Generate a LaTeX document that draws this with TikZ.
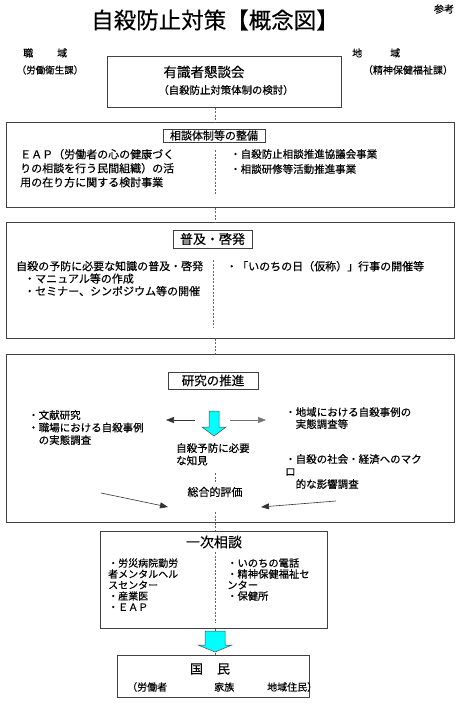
\documentclass[tikz,border=0pt]{standalone}
\usepackage{fontspec}
\setmainfont{Noto Sans CJK JP}[FakeBold=0.35]
\usetikzlibrary{arrows.meta}
\definecolor{aqua}{RGB}{0,255,255}
\newcommand{\fs}[2]{\fontsize{#1}{#2}\selectfont}
\begin{document}
\begin{tikzpicture}[x=1pt,y=-1pt,
  outer/.style={draw=black!75, line width=0.8pt, inner sep=0, anchor=north west},
  titlebox/.style={draw=black!75, line width=0.8pt, inner sep=0},
  txt/.style={inner sep=0, anchor=north west, align=left},
  ltxt/.style={inner sep=0, anchor=west},
  dashline/.style={draw=black!60, line width=0.7pt, dash pattern=on 2pt off 1.5pt},
  bigarrow/.style={fill=aqua, draw=black!70, line width=0.5pt},
  thinarrow/.style={draw=black!80, line width=0.6pt, -{Triangle[length=8pt,width=6pt]}}]
\useasboundingbox (0,0) rectangle (456,707);

% header
\node[font=\fs{22.5}{27}, inner sep=0] (title) at (215,20) {自殺防止対策【概念図】};
\node[font=\fs{10}{12}, inner sep=0] (sanko) at (444,9) {参考};
\node[ltxt, font=\fs{10}{12}] (shoku) at (23,53) {職\hspace{24pt}域};
\node[font=\fs{9.5}{12}, inner sep=0] (rodo) at (50,70) {（労働衛生課）};
\node[ltxt, font=\fs{10}{12}] (chiiki) at (352,53) {地\hspace{28pt}域};
\node[font=\fs{10}{12}, inner sep=0] (seishin) at (408,70) {（精神保健福祉課）};

% box 1
\node[outer, minimum width=234, minimum height=51] (b1) at (107,56) {};
\node[font=\fs{13.5}{16}, inner sep=0] (yushiki) at (204,72) {有識者懇談会};
\node[font=\fs{10.4}{12}, inner sep=0] (kento) at (226,90) {（自殺防止対策体制の検討）};

% box 2
\node[outer, minimum width=448, minimum height=85] (b2) at (6,122) {};
\node[titlebox, minimum width=102, minimum height=13, font=\fs{11}{13}] (t2) at (214,135.5) {相談体制等の整備};
\node[txt, font=\fs{11}{14}] (b2l) at (20,148.8) {ＥＡＰ（労働者の心の健康づく\\りの相談を行う民間組織）の活\\用の在り方に関する検討事業};
\node[txt, font=\fs{10.5}{15}] (b2r) at (230,149) {・自殺防止相談推進協議会事業\\・相談研修等活動推進事業};

% box 3
\node[outer, minimum width=448, minimum height=116] (b3) at (6,222) {};
\node[titlebox, minimum width=79, minimum height=18, font=\fs{13}{15}] (t3) at (212.5,239) {普及・啓発};
\node[txt, font=\fs{11}{12.5}] (b3l) at (16,260.8) {自殺の予防に必要な知識の普及・啓発\\\hspace{8pt}・マニュアル等の作成\\\hspace{8pt}・セミナー、シンポジウム等の開催};
\node[txt, font=\fs{11}{12.5}] (b3r) at (226,260.8) {・「いのちの日（仮称）」行事の開催等};

% box 4
\node[outer, minimum width=448, minimum height=168] (b4) at (6,354) {};
\node[titlebox, minimum width=90, minimum height=17, font=\fs{12.5}{15}] (t4) at (213,380.5) {研究の推進};
\node[txt, font=\fs{10.5}{12.5}] (b4l) at (28,410) {・文献研究\\・職場における自殺事例\\\hspace{10.5pt}の実態調査};
\node[txt, font=\fs{10.5}{12}] (b4r1) at (285,407) {・地域における自殺事例の\\\hspace{10.5pt}実態調査等};
\node[txt, font=\fs{10.5}{12.5}] (b4r2) at (285,454) {・自殺の社会・経済へのマク\\ロ\\\hspace{10.5pt}的な影響調査};
\node[txt, font=\fs{10.5}{12.5}] (chiken) at (176,443) {自殺予防に必要\\な知見};
\node[font=\fs{11}{13}, inner sep=0] (sogo) at (215,492) {総合的評価};

\draw[bigarrow] (209,411) -- (219,411) -- (219,427) -- (226,427) -- (214,436) -- (202,427) -- (209,427) -- cycle;

\coordinate (ua1) at (195,420);
\coordinate (ua2) at (166,420);
\coordinate (ub1) at (230,420);
\coordinate (ub2) at (266,420);
\coordinate (la1) at (101,493);
\coordinate (la2) at (168,507);
\coordinate (ra1) at (336,501);
\coordinate (ra2) at (261,507);
\draw[thinarrow] (ua1) -- (ua2);
\draw[thinarrow, draw=black!55] (ub1) -- (ub2);
\draw[thinarrow] (la1) -- (la2);
\draw[thinarrow] (ra1) -- (ra2);

% box 5
\node[outer, minimum width=227, minimum height=97] (b5) at (100,531) {};
\node[font=\fs{14}{16}, inner sep=0] (t5) at (214,542) {一次相談};
\node[txt, font=\fs{10}{11}] (b5l) at (108,558.2) {・労災病院勤労\\者メンタルヘル\\スセンター\\・産業医\\・ＥＡＰ};
\node[txt, font=\fs{10.3}{11}] (b5r) at (227,558.2) {・いのちの電話\\・精神保健福祉セ\\ンター\\・保健所};

% box 6
\node[outer, minimum width=192, minimum height=42] (b6) at (117,655) {};
\node[font=\fs{13}{15}, inner sep=0] (kokumin) at (210,669) {国\hspace{14pt}民};
\node[ltxt, font=\fs{10}{12}] (kokumin2) at (127,687) {（労働者\hspace{47pt}家族\hspace{33pt}地域住民）};

% dashed connectors
\coordinate (cx) at (215,0);
\draw[dashline] (b1.south -| cx) -- (b2.north -| cx);
\draw[dashline] (215,150) -- (215,195);
\draw[dashline] (b2.south -| cx) -- (b3.north -| cx);
\draw[dashline] (213,260) -- (213,328);
\draw[dashline] (b3.south -| cx) -- (b4.north -| cx);
\draw[dashline] (215,473) -- (215,482);
\draw[dashline] (215,512) -- (b4.south -| cx);
\draw[dashline] (b4.south -| cx) -- (b5.north -| cx);
\draw[dashline] (215,552) -- (215,623);
\draw[dashline] (b5.south -| cx) -- (b6.north -| cx);
\draw[bigarrow] (205,631) -- (225,631) -- (225,645) -- (232,645) -- (215,652) -- (198,645) -- (205,645) -- cycle;
\end{tikzpicture}
\end{document}
